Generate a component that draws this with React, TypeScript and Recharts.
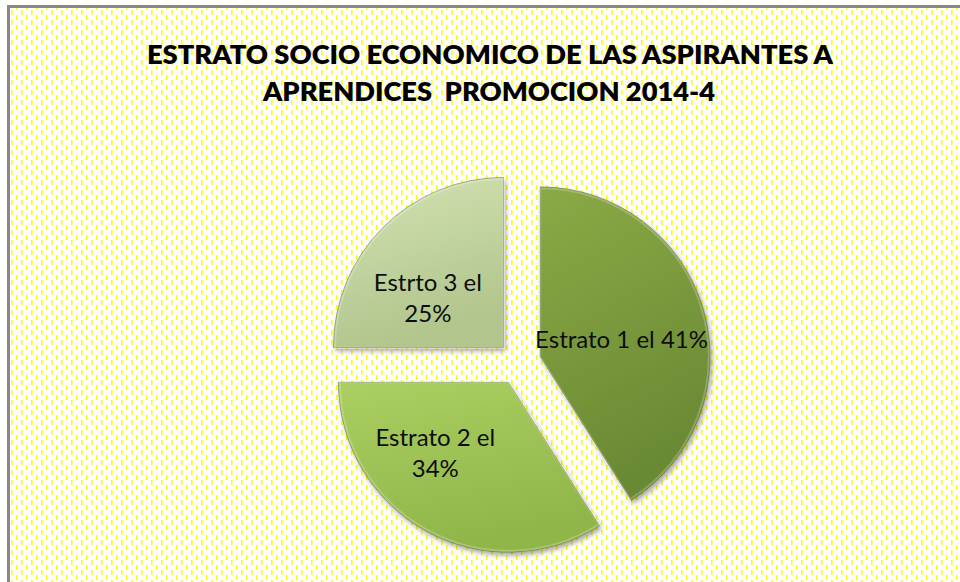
import React from "react";
import { PieChart, Pie, Cell, Sector } from "recharts";

// ---- data ----
const categories = ["Estrato 1", "Estrato 2", "Estrto 3"];
const values = [41, 34, 25];
const labelWraps = [false, true, true];
const titleLines = [
  "ESTRATO SOCIO ECONOMICO DE LAS ASPIRANTES A",
  "APRENDICES  PROMOCION 2014-4",
];

const data = categories.map((name, i) => ({ name, value: values[i] }));

// ---- style ----
const W = 960;
const H = 582;
const EXPLODE = 22;
const RAD = Math.PI / 180;
// label placement tweaks (angle nudge in degrees, radius as fraction of outer radius)
const LABEL_NUDGE = [-4, -17, 12];
const LABEL_RADIUS = [0.49, 0.6, 0.53];
const gradStops = [
  ["#8aaa46", "#6a8934"],
  ["#abcf60", "#90b54a"],
  ["#d3e3b3", "#b1c58c"],
];
const FONT = "Lato, 'Open Sans', sans-serif";

function shift(midAngle: number, d: number): [number, number] {
  return [d * Math.cos(-midAngle * RAD), d * Math.sin(-midAngle * RAD)];
}

const ExplodedSector = (props: any) => {
  const { cx, cy, midAngle, innerRadius, outerRadius, startAngle, endAngle, fill } = props;
  const [dx, dy] = shift(midAngle, EXPLODE);
  return (
    <g filter="url(#pieShadow)">
      <Sector
        cx={cx + dx}
        cy={cy + dy}
        innerRadius={innerRadius}
        outerRadius={outerRadius}
        startAngle={startAngle}
        endAngle={endAngle}
        fill={fill}
        stroke="rgba(70,90,30,0.45)"
        strokeWidth={1}
      />
      <Sector
        cx={cx + dx}
        cy={cy + dy}
        innerRadius={innerRadius}
        outerRadius={outerRadius - 1.5}
        startAngle={startAngle}
        endAngle={endAngle}
        fill="none"
        stroke="rgba(255,255,255,0.22)"
        strokeWidth={2}
      />
    </g>
  );
};

const renderLabel = (props: any) => {
  const { cx, cy, midAngle, outerRadius } = props;
  let index = props.index;
  if (index === undefined || index === null) index = categories.indexOf(props.name);
  const [dx, dy] = shift(midAngle, EXPLODE);
  const [lx, ly] = shift(midAngle + LABEL_NUDGE[index], outerRadius * LABEL_RADIUS[index]);
  const x = cx + dx + lx;
  const y = cy + dy + ly;
  const name = categories[index];
  const v = values[index];
  const lines = labelWraps[index] ? [`${name} el`, `${v}%`] : [`${name} el ${v}%`];
  const lh = 31;
  const first = y - ((lines.length - 1) * lh) / 2 + 8.5;
  return (
    <text x={x} y={first} textAnchor="middle" fontFamily={FONT} fontSize={24} fill="#0d0d0d">
      {lines.map((l, i) => (
        <tspan key={i} x={x} y={first + i * lh}>
          {l}
        </tspan>
      ))}
    </text>
  );
};

export default function App() {
  return (
    <div
      style={{
        position: "absolute",
        left: 0,
        top: 0,
        width: W,
        height: H,
        overflow: "hidden",
        background: "#ffffff",
      }}
    >
      <svg width={W} height={H} style={{ position: "absolute", left: 0, top: 0 }}>
        <defs>
          <pattern id="yellowDash" width="10" height="10" patternUnits="userSpaceOnUse">
            <rect x="1" y="0" width="1.6" height="5" fill="#ffff00" />
            <rect x="6" y="5" width="1.6" height="5" fill="#ffff00" />
          </pattern>
          {gradStops.map((s, i) => (
            <linearGradient key={i} id={`slice${i}`} x1="0" y1="0" x2="0.3" y2="1">
              <stop offset="0%" stopColor={s[0]} />
              <stop offset="100%" stopColor={s[1]} />
            </linearGradient>
          ))}
          <filter id="pieShadow" x="-20%" y="-20%" width="140%" height="140%">
            <feDropShadow dx="2" dy="3" stdDeviation="2.5" floodColor="#000" floodOpacity="0.35" />
          </filter>
        </defs>
        <rect x={10} y={8} width={W - 10} height={H - 8} fill="url(#yellowDash)" />
        <rect x={7} y={5} width={3} height={H} fill="#888888" />
        <rect x={7} y={5} width={W} height={3} fill="#888888" />
        <text
          x={490}
          y={64}
          textAnchor="middle"
          fontFamily={FONT}
          fontWeight={800}
          fontSize={27}
          textLength={686}
          lengthAdjust="spacingAndGlyphs"
          fill="#000"
        >
          {titleLines[0]}
        </text>
        <text
          x={489}
          y={101}
          textAnchor="middle"
          fontFamily={FONT}
          fontWeight={800}
          fontSize={27}
          textLength={452}
          lengthAdjust="spacingAndGlyphs"
          fill="#000"
          style={{ whiteSpace: "pre" }}
        >
          {titleLines[1]}
        </text>
      </svg>
      <div style={{ position: "absolute", left: 0, top: 0 }}>
        <PieChart width={W} height={H} margin={{ top: 0, right: 0, bottom: 0, left: 0 }}>
          <Pie
            data={data}
            dataKey="value"
            nameKey="name"
            cx={519}
            cy={363}
            outerRadius={170}
            startAngle={90}
            endAngle={-270}
            isAnimationActive={false}
            label={renderLabel}
            labelLine={false}
            inactiveShape={ExplodedSector}
            activeShape={ExplodedSector}
            shape={ExplodedSector}
            stroke="none"
          >
            {data.map((d, i) => (
              <Cell key={d.name} fill={`url(#slice${i})`} />
            ))}
          </Pie>
        </PieChart>
      </div>
    </div>
  );
}
